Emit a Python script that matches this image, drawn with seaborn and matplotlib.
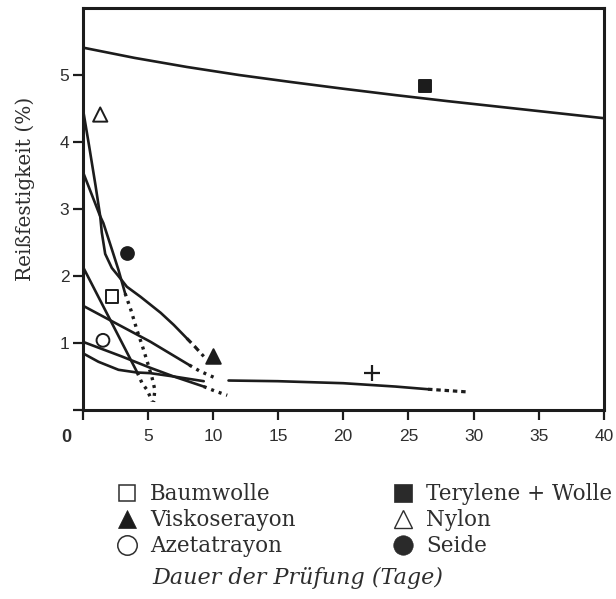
import matplotlib
matplotlib.use("Agg")
import matplotlib.pyplot as plt
import seaborn as sns

sns.set_style("white")

# ---------------- data ----------------
terylene_x = [0, 4, 8, 12, 16, 20, 24, 28, 32, 36, 40]
terylene_y = [5.41, 5.255, 5.12, 5.0, 4.895, 4.795, 4.70, 4.61, 4.525, 4.44, 4.355]

steep_x = [0, 0.5, 1.0, 1.36, 1.48, 1.74, 2.25, 3.0, 3.4, 4.45, 6.0, 7.0, 8.0]
steep_y = [4.53, 3.95, 3.35, 2.89, 2.65, 2.33, 2.12, 1.94, 1.84, 1.69, 1.45, 1.27, 1.07]
steep_dash_x = [8.0, 8.6, 9.3]
steep_dash_y = [1.07, 0.95, 0.80]

mid_x = [0, 0.7, 1.36, 1.6, 2.25, 2.76, 3.27]
mid_y = [3.57, 3.22, 2.89, 2.79, 2.40, 2.09, 1.74]
mid_dot_x = [3.27, 3.7, 4.2, 4.6, 5.0, 5.35, 5.55, 5.45]
mid_dot_y = [1.74, 1.50, 1.18, 0.95, 0.70, 0.47, 0.30, 0.12]

lin2_x = [0, 4.2]
lin2_y = [2.15, 0.56]
lin2_dot_x = [4.2, 4.57, 4.95, 5.35]
lin2_dot_y = [0.56, 0.40, 0.30, 0.13]

lin15_x = [0, 2.5, 5.2, 8.2]
lin15_y = [1.56, 1.30, 1.02, 0.67]
lin15_dot_x = [8.2, 9.0, 9.7, 10.4]
lin15_dot_y = [0.67, 0.58, 0.52, 0.46]

lin1_x = [0, 3, 5.2, 7, 9.3]
lin1_y = [1.02, 0.80, 0.63, 0.50, 0.35]
lin1_dot_x = [9.3, 10.2, 11.1]
lin1_dot_y = [0.35, 0.28, 0.22]

low_x = [0, 1.22, 2.76, 4.16, 5.2, 7, 9.3]
low_y = [0.85, 0.72, 0.60, 0.56, 0.55, 0.50, 0.43]

flat_x = [11.2, 15, 20, 24, 26.5]
flat_y = [0.44, 0.43, 0.40, 0.35, 0.31]
flat_dash_x = [26.5, 28, 29.5]
flat_dash_y = [0.31, 0.29, 0.27]

# marker points
baum_xy = (2.26, 1.70)
visko_xy = (10.0, 0.80)
azet_xy = (1.57, 1.04)
tery_xy = (26.3, 4.83)
nylon_xy = (1.36, 4.41)
seide_xy = (3.44, 2.35)
plus_xy = (22.2, 0.55)

legend_labels = ["Baumwolle", "Viskoserayon", "Azetatrayon",
                 "Terylene + Wolle", "Nylon", "Seide"]
x_ticks = [0, 5, 10, 15, 20, 25, 30, 35, 40]
x_ticklabels = ["", "5", "10", "15", "20", "25", "30", "35", "40"]
y_ticks = [0, 1, 2, 3, 4, 5]
y_ticklabels = ["", "1", "2", "3", "4", "5"]
y_label = "Reißfestigkeit (%)"
x_label = "Dauer der Prüfung (Tage)"

# ---------------- figure ----------------
INK = "#1c1c1c"
TXT = "#2e2e2e"
fig = plt.figure(figsize=(6.16, 5.99), dpi=100)
fig.patch.set_facecolor("white")
ax = fig.add_axes([82.5 / 616, 1 - 410 / 599, (604 - 82.5) / 616, (410 - 8) / 599])

LW = 1.9
solid = dict(color=INK, estimator=None, sort=False, ax=ax)

def line(x, y, ls="-", lw=LW):
    sns.lineplot(x=x, y=y, linestyle=ls, linewidth=lw, **solid)

DOT = (0, (0.9, 1.5))
line(terylene_x, terylene_y)
line(steep_x, steep_y)
line(steep_dash_x, steep_dash_y, (0, (2.0, 1.4)), 2.3)
line(mid_x, mid_y)
line(mid_dot_x, mid_dot_y, DOT, 2.4)
line(lin2_x, lin2_y)
line(lin2_dot_x, lin2_dot_y, DOT, 2.4)
line(lin15_x, lin15_y)
line(lin15_dot_x, lin15_dot_y, DOT, 2.4)
line(lin1_x, lin1_y)
line(lin1_dot_x, lin1_dot_y, DOT, 2.4)
line(low_x, low_y)
line(flat_x, flat_y)
line(flat_dash_x, flat_dash_y, (0, (1.4, 1.2)), 2.3)

# markers
def mark(xy, marker, filled, size):
    sns.scatterplot(x=[xy[0]], y=[xy[1]], marker=marker, s=size,
                    facecolor=INK if filled else "none",
                    edgecolor=INK, linewidth=1.4, ax=ax, zorder=5)

mark(baum_xy, "s", False, 85)
mark(visko_xy, "^", True, 110)
mark(azet_xy, "o", False, 85)
mark(tery_xy, "s", True, 75)
mark(nylon_xy, "^", False, 105)
mark(seide_xy, "o", True, 85)
sns.scatterplot(x=[plus_xy[0]], y=[plus_xy[1]], marker="+", s=140,
                color=INK, linewidth=1.6, ax=ax, zorder=5)

ax.set_xlim(0, 40)
ax.set_ylim(0, 6)
ax.set_xticks(x_ticks)
ax.set_xticklabels(x_ticklabels)
ax.set_yticks(y_ticks)
ax.set_yticklabels(y_ticklabels)
ax.set_xlabel("")
ax.set_ylabel("")
for sp in ax.spines.values():
    sp.set_visible(True)
    sp.set_linewidth(2.2)
    sp.set_color(INK)
ax.tick_params(axis="both", which="major", direction="out", length=7.5, width=1.6,
               color=INK, labelcolor=TXT, labelsize=12.5,
               bottom=True, left=True, top=False, right=False)
ax.tick_params(axis="x", pad=6.5)
ax.tick_params(axis="y", pad=2)
for t in ax.get_xticklabels() + ax.get_yticklabels():
    t.set_family("Liberation Sans")

fig.text(66 / 616, 1 - 437 / 599, "0", ha="center", va="center",
         family="Liberation Sans", fontsize=13, fontweight="bold", color=TXT)

fig.text(25 / 616, 1 - 189 / 599, y_label, rotation=90, ha="center", va="center",
         family="DejaVu Serif", fontsize=14.5, color=TXT)

# legend drawn in a pixel-coordinate overlay
lax = fig.add_axes([0, 0, 1, 1], zorder=-1)
lax.set_xlim(0, 616)
lax.set_ylim(599, 0)
lax.axis("off")
col_x = [127, 403]
row_y = [493, 519, 545]
leg_style = [
    dict(marker="s", ms=12, mfc="none", mec=TXT, mew=1.1),
    dict(marker="^", ms=12.5, mfc=INK, mec=INK, mew=0.5),
    dict(marker="o", ms=14, mfc="none", mec=TXT, mew=1.1),
    dict(marker="s", ms=13.5, mfc="#2a2a2a", mec="#2a2a2a", mew=0.5),
    dict(marker="^", ms=13, mfc="none", mec=TXT, mew=1.0),
    dict(marker="o", ms=14, mfc="#2a2a2a", mec="#2a2a2a", mew=0.5),
]
for i, lab in enumerate(legend_labels):
    cx = col_x[i // 3]
    cy = row_y[i % 3]
    lax.plot([cx], [cy], linestyle="none", **leg_style[i])
    lax.text(cx + 23, cy + 1, lab, ha="left", va="center",
             family="DejaVu Serif", fontsize=15.5, color=TXT)

fig.text(152 / 616, 1 - 578 / 599, x_label, ha="left", va="center",
         family="DejaVu Serif", style="italic", fontsize=16, color=TXT)

fig.savefig("out.png", dpi=100, facecolor="white")
